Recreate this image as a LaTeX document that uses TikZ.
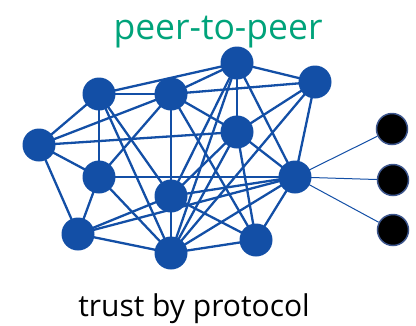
\documentclass[tikz,border=0pt]{standalone}
\usepackage{fontspec}
\setmainfont{Open Sans}
\usetikzlibrary{backgrounds}
\definecolor{nodeblue}{RGB}{19,79,166}
\definecolor{titlegreen}{RGB}{0,163,122}
\definecolor{rimblue}{RGB}{60,85,140}
\begin{document}
\begin{tikzpicture}[x=1pt,y=-1pt,
  peer/.style={circle,fill=nodeblue,minimum size=33pt,inner sep=0pt},
  client/.style={circle,fill=black,draw=rimblue,line width=1.5pt,minimum size=31pt,inner sep=0pt},
  link/.style={draw=nodeblue,line width=2.3pt},
  thinlink/.style={draw=nodeblue,line width=1pt},
  lbl/.style={anchor=base,inner sep=0pt}]
\useasboundingbox (0,0) rectangle (416,325);
\node[peer] (A) at (99,94) {};
\node[peer] (B) at (171,94) {};
\node[peer] (C) at (237,63) {};
\node[peer] (D) at (315,82) {};
\node[peer] (E) at (237,132) {};
\node[peer] (F) at (39,145) {};
\node[peer] (G) at (99,177) {};
\node[peer] (H) at (171,196) {};
\node[peer] (I) at (295,177) {};
\node[peer] (J) at (78,234) {};
\node[peer] (K) at (171,253) {};
\node[peer] (L) at (256,240) {};
\node[client] (X1) at (392,129) {};
\node[client] (X2) at (393,180) {};
\node[client] (X3) at (393,230) {};
\node[lbl,text=titlegreen,font=\fontsize{35.5}{42}\selectfont] (title) at (218,39) {peer-to-peer};
\node[lbl,text=black,font=\fontsize{30}{36}\selectfont] (caption) at (194,316) {trust by protocol};
\begin{scope}[on background layer]
\foreach \a/\b in {F/A,F/B,F/E,F/G,F/J,
  A/B,A/C,A/G,A/H,A/K,
  B/C,B/D,B/E,B/G,B/H,B/L,
  C/D,C/E,C/I,C/H,C/K,
  D/E,D/I,D/K,
  E/I,E/L,E/K,E/H,
  G/I,G/K,G/J,
  H/K,H/J,H/I,H/L,
  I/J,I/K,I/L,
  J/K,K/L}
  \draw[link] (\a.center) -- (\b.center);
\foreach \c in {X1,X2,X3}
  \draw[thinlink] (I.center) -- (\c);
\end{scope}
\end{tikzpicture}
\end{document}
